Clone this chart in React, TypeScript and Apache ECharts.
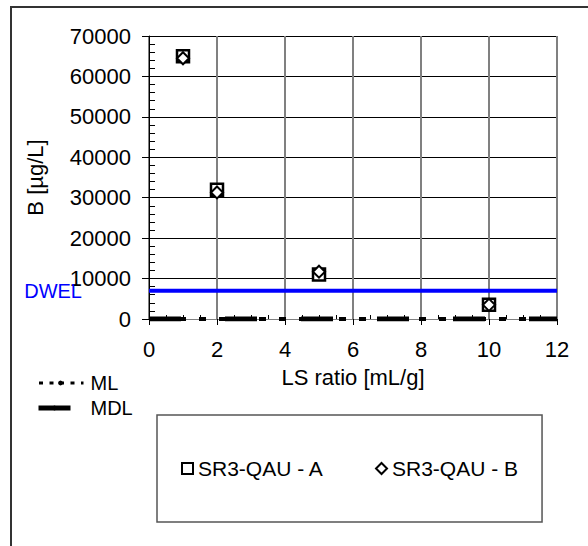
import React, { useEffect, useRef } from "react";
import * as echarts from "echarts";

const lsRatio = [1, 2, 5, 10];
const seriesAValues = [65000, 32000, 11000, 3500];
const seriesBValues = [64500, 31300, 11700, 3500];
const dwelValue = 7000;
const mlValue = 0;
const mdlValue = 0;
const xRange = [0, 12];
const seriesNames = ["SR3-QAU - A", "SR3-QAU - B"];

const FONT = "'Liberation Sans', Arial, sans-serif";

export default function App() {
  const ref = useRef<HTMLDivElement>(null);
  useEffect(() => {
    if (!ref.current) return;
    const chart = echarts.init(ref.current, null, { renderer: "svg" });
    const pairs = (ys: number[]) => lsRatio.map((x, i) => [x, ys[i]]);
    const flat = (v: number) => xRange.map((x) => [x, v]);
    const option: any = {
      animation: false,
      backgroundColor: "#fff",
      textStyle: { fontFamily: FONT, color: "#000" },
      grid: { left: 149, right: 31, top: 36, bottom: 227 },
      xAxis: [
        {
          type: "value",
          min: 0,
          max: 12,
          interval: 2,
          name: "LS ratio [mL/g]",
          nameLocation: "middle",
          nameGap: 47,
          nameTextStyle: { fontSize: 22, color: "#000", fontFamily: FONT },
          axisLine: { show: true, onZero: false, lineStyle: { color: "#808080", width: 1 } },
          axisTick: { show: true, inside: false, length: 6, lineStyle: { color: "#000" } },
          axisLabel: { fontSize: 22, color: "#000", margin: 19, fontFamily: FONT },
          splitLine: { show: true, lineStyle: { color: "#808080", width: 2 } },
        },
        {
          type: "value",
          min: 0,
          max: 12,
          interval: 2,
          position: "bottom",
          axisLine: { show: false, onZero: false },
          axisTick: { show: false, inside: true },
          minorTick: { show: true, splitNumber: 4, length: 4, lineStyle: { color: "#000" } },
          axisLabel: { show: false },
          splitLine: { show: false },
        },
      ],
      yAxis: [
        {
          type: "value",
          min: 0,
          max: 70000,
          interval: 10000,
          name: "B [µg/L]",
          nameLocation: "middle",
          nameGap: 103,
          nameTextStyle: { fontSize: 22, color: "#000", fontFamily: FONT },
          axisLine: { show: true, lineStyle: { color: "#000", width: 1 } },
          axisTick: { show: true, inside: false, length: 7, lineStyle: { color: "#000" } },
          axisLabel: { fontSize: 22, color: "#000", margin: 18, fontFamily: FONT, formatter: (v: number) => String(v) },
          splitLine: { show: true, lineStyle: { color: "#000", width: 1 } },
        },
        {
          type: "value",
          min: 0,
          max: 70000,
          interval: 10000,
          position: "left",
          axisLine: { show: false },
          axisTick: { show: false, inside: true },
          minorTick: { show: true, splitNumber: 5, length: 6, lineStyle: { color: "#000" } },
          axisLabel: { show: false },
          splitLine: { show: false },
        },
      ],
      legend: [
        {
          data: ["ML"],
          left: 36,
          top: 373,
          padding: 0,
          itemWidth: 46,
          itemHeight: 6,
          itemGap: 0,
          lineStyle: { type: [4, 6.5], width: 3 },
          textStyle: { fontSize: 20, color: "#000", fontFamily: FONT, padding: [0, 0, 0, 2] },
        },
        {
          data: ["MDL"],
          left: 36,
          top: 398,
          padding: 0,
          itemWidth: 32,
          itemHeight: 6,
          lineStyle: { type: "solid", width: 5 },
          textStyle: { fontSize: 20, color: "#000", fontFamily: FONT, padding: [0, 0, 0, 15] },
        },
        {
          data: seriesNames,
          left: 157,
          top: 415,
          width: 384,
          padding: [43, 24, 43, 24],
          itemGap: 51,
          itemWidth: 11,
          itemHeight: 11,
          borderColor: "#555",
          borderWidth: 1.5,
          borderRadius: 0,
          textStyle: { fontSize: 21, color: "#000", fontFamily: FONT },
        },
      ],
      series: [
        {
          name: "DWEL",
          type: "line",
          data: flat(dwelValue),
          symbol: "none",
          lineStyle: { color: "#0000ff", width: 4 },
          z: 3,
        },
        {
          name: "MDL",
          type: "line",
          data: flat(mdlValue),
          symbol: "none",
          lineStyle: { color: "#000", width: 5, type: [32, 44] },
          itemStyle: { color: "#000" },
          z: 3,
        },
        {
          name: "ML",
          type: "line",
          data: flat(mlValue),
          symbol: "none",
          lineStyle: { color: "#000", width: 4, type: [7, 13], dashOffset: 30 },
          itemStyle: { color: "#000" },
          z: 3,
        },
        {
          name: seriesNames[0],
          type: "scatter",
          data: pairs(seriesAValues),
          symbol: "rect",
          symbolSize: 12,
          itemStyle: { color: "#fff", borderColor: "#000", borderWidth: 2.5, opacity: 1 },
          z: 4,
        },
        {
          name: seriesNames[1],
          type: "scatter",
          data: pairs(seriesBValues),
          symbol: "diamond",
          symbolSize: 12,
          itemStyle: { color: "#fff", borderColor: "#000", borderWidth: 2, opacity: 1 },
          z: 5,
        },
      ],
    };
    chart.setOption(option);
    const p = chart.convertToPixel({ gridIndex: 0 }, [0, dwelValue]) as number[];
    chart.setOption({
      graphic: [
        {
          type: "rect",
          shape: { x: 11, y: 7, width: 700, height: 700 },
          style: { fill: "none", stroke: "#333", lineWidth: 2 },
          silent: true,
        },
        {
          type: "text",
          x: 82,
          y: p[1],
          style: {
            text: "DWEL",
            fill: "#0000ff",
            font: `20px ${FONT}`,
            align: "right",
            verticalAlign: "middle",
          },
          z: 10,
        },
      ],
    });
    return () => chart.dispose();
  }, []);
  return (
    <div
      ref={ref}
      style={{ position: "fixed", left: 0, top: 0, width: 588, height: 546 }}
    />
  );
}
